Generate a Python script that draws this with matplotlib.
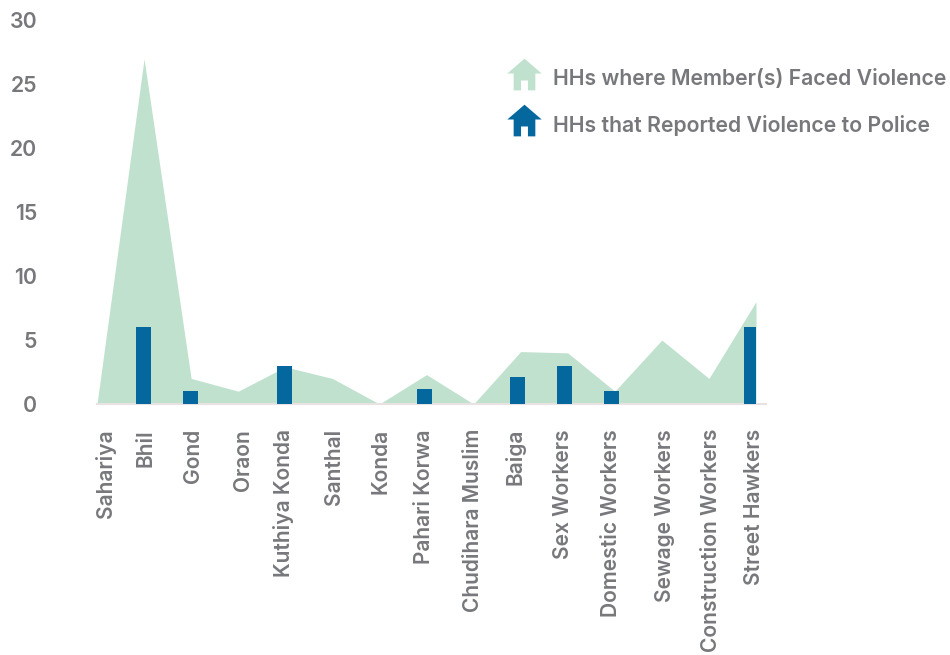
import numpy as np
import matplotlib
matplotlib.use('Agg')
import matplotlib.pyplot as plt
from matplotlib.lines import Line2D
from matplotlib.path import Path

categories = ['Sahariya', 'Bhil', 'Gond', 'Oraon', 'Kuthiya Konda', 'Santhal', 'Konda', 'Pahari Korwa',
              'Chudihara Muslim', 'Baiga', 'Sex Workers', 'Domestic Workers', 'Sewage Workers',
              'Construction Workers', 'Street Hawkers']
faced_violence = [0, 27, 2, 1, 2.9, 2, 0, 2.3, 0, 4.1, 4, 1, 5, 2, 8]
reported_police = [0, 6, 1, 0, 3, 0, 0, 1.2, 0, 2.1, 3, 1, 0, 0, 6]
y_ticks = [0, 5, 10, 15, 20, 25, 30]
label_names = ['HHs where Member(s) Faced Violence', 'HHs that Reported Violence to Police']

GREEN = '#bfe1cd'
BLUE = '#04689f'
GREY = '#77787b'

# small shifts of the rotated labels, the original placed them by hand
label_shift = [0.19, 0.02, 0.03, 0.1, -0.04, 0.03, 0.02, -0.05, -0.01, -0.12, -0.09, -0.09, 0.07, 0.04, -0.04]

# house shape for the legend, sits a bit above the text centre
house = Path([(-1, 0.29), (0, 1.15), (1, 0.29), (0.63, 0.29), (0.63, -0.69), (0.2, -0.69), (0.2, -0.115),
              (-0.2, -0.115), (-0.2, -0.69), (-0.63, -0.69), (-0.63, 0.29), (-1, 0.29)], closed=True)


def main():
    plt.rcParams['font.family'] = ['Inter', 'DejaVu Sans']
    plt.rcParams['font.weight'] = 'semibold'

    x = np.arange(len(categories))

    fig = plt.figure(figsize=(9.5, 6.55), dpi=100)
    ax = fig.add_axes([97 / 950, 1 - 404 / 655, 659 / 950, 383.5 / 655])
    ax.set_xlim(0, 14)
    ax.set_ylim(0, 30)

    ax.fill_between(x, faced_violence, color=GREEN, linewidth=0)
    ax.bar(x * 0.9936, reported_police, width=0.32, color=BLUE, zorder=3)

    for side in ['top', 'right', 'left']:
        ax.spines[side].set_visible(False)
    ax.spines['bottom'].set_color('#e8e2e2')
    ax.spines['bottom'].set_linewidth(1.5)
    ax.spines['bottom'].set_bounds(0, 14.21)

    ax.set_yticks(y_ticks)
    ax.tick_params(axis='y', length=0, pad=43, labelsize=15.3, labelcolor=GREY)
    ax.set_xticks(x + np.array(label_shift))
    ax.set_xticklabels(categories, rotation=90, ha='center', va='top')
    ax.tick_params(axis='x', length=0, pad=18, labelsize=15.1, labelcolor=GREY)

    handles = [Line2D([], [], linestyle='none', marker=house, markersize=28.5, color=GREEN, markeredgewidth=0),
               Line2D([], [], linestyle='none', marker=house, markersize=28.5, color=BLUE, markeredgewidth=0)]
    ax.legend(handles, label_names, frameon=False, loc='upper left', bbox_to_anchor=(503 / 950, 1 - 69 / 655),
              bbox_transform=fig.transFigure, fontsize=15.3, labelcolor=GREY, labelspacing=1.22,
              handletextpad=0.36, borderpad=0, borderaxespad=0)

    fig.savefig('out.png', dpi=100)


if __name__ == '__main__':
    main()
